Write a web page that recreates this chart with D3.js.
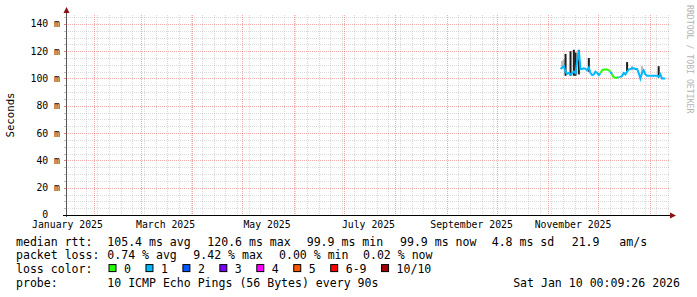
<!DOCTYPE html>
<html>
<head>
<meta charset="utf-8">
<script src="https://cdn.jsdelivr.net/npm/d3@7"></script>
<style>
  body { margin: 0; background: #fff; }
  text { font-family: "DejaVu Sans Mono", monospace; fill: #000; }
</style>
</head>
<body>
<div id="chart"></div>
<script>
// median rtt per day (ms), first sample 2025-11-08
const medianRtt = [
  107, 108, 109, 105, 103.5, 104, 103, 104, 105, 104,
  113, 120.6, 107, 107, 107.5, 107, 106, 108, 104, 102.5,
  103, 105, 104, 102.5, 104, 106, 106.5, 106.5, 106.5, 106,
  105, 103, 101, 100.5, 100.5, 101, 101, 102, 104, 103,
  105, 106.5, 107, 107.5, 107.5, 107, 107, 104, 100, 104,
  106, 103, 102, 102, 102, 102, 102, 102, 102, 101,
  103, 100, 99.9, 99.9
];
// lost pings (of 10) per day, picks the line colour
const lossPings = [
  0, 1, 1, 1, 1, 1, 1, 1, 1, 1,
  1, 1, 1, 1, 1, 1, 1, 1, 1, 1,
  1, 1, 1, 1, 1, 0, 0, 0, 0, 0,
  0, 1, 0, 0, 0, 1, 0, 1, 1, 1,
  1, 1, 1, 1, 1, 1, 1, 1, 1, 1,
  1, 1, 1, 1, 1, 1, 1, 1, 1, 1,
  1, 1, 1, 1
];
// dense smoke (dark) spikes: day index, low and high rtt (ms)
const spikeDay = [3, 6, 8, 9, 11, 17, 40, 59];
const spikeLo = [102, 102, 102, 102, 103, 105, 105, 102];
const spikeHi = [118, 120, 121, 119, 121, 115, 112, 109];
// light smoke
const smokeDay = [1, 2, 43, 49];
const smokeLo = [107, 108, 106, 104];
const smokeHi = [113, 114, 109, 109];

const yTicks = [0, 20, 40, 60, 80, 100, 120, 140];
const lossLabels = ['0', '1', '2', '3', '4', '5', '6-9', '10/10'];
const lossColors = ['#26ff00', '#00b8ff', '#0059ff', '#7e00ff', '#ff00ff', '#ff5500', '#ff0000', '#a10000'];

const rttStats = ['105.4 ms avg', '120.6 ms max', '99.9 ms min', '99.9 ms now', '4.8 ms sd', '21.9', 'am/s'];
const lossStats = ['0.74 % avg', '9.42 % max', '0.00 % min', '0.02 % now'];
const probeText = '10 ICMP Echo Pings (56 Bytes) every 90s';
const stampText = 'Sat Jan 10 00:09:26 2026';

const width = 697;
const height = 297;
const margin = {top: 15, left: 66, right: 28, bottom: 82};
const charW = 6.95;

const firstDay = Date.UTC(2025, 10, 8, 12);
const dayAt = i => new Date(firstDay + i * 864e5);

const svg = d3.select('#chart')
  .append('svg')
  .attr('width', width)
  .attr('height', height);

const xScale = d3.scaleUtc()
  .domain([new Date(Date.UTC(2025, 0, 15, 3)), new Date(Date.UTC(2026, 0, 12, 17))])
  .range([margin.left, width - margin.right]);

const yScale = d3.scaleLinear()
  .domain([0, 146.5])
  .range([height - margin.bottom, margin.top]);

const x0 = margin.left, x1 = width - margin.right;
const yTop = margin.top, yBot = height - margin.bottom;

// minor grid
const grid = svg.append('g').attr('shape-rendering', 'crispEdges');
const months = d3.utcMonth.range(...xScale.domain());
const monthSet = new Set(months.map(d => +d));
const mondays = d3.utcMonday.range(...xScale.domain()).filter(d => !monthSet.has(+d));

const minorY = d3.range(5, 147, 5).filter(v => v % 20 !== 0);

grid.selectAll('.hmin').data(minorY).enter().append('line')
  .attr('x1', x0).attr('x2', x1)
  .attr('y1', d => Math.round(yScale(d)) + 0.5).attr('y2', d => Math.round(yScale(d)) + 0.5)
  .attr('stroke', '#8f8f8f').attr('stroke-opacity', 0.33).attr('stroke-dasharray', '1,1');

grid.selectAll('.vmin').data(mondays).enter().append('line')
  .attr('x1', d => Math.round(xScale(d)) + 0.5).attr('x2', d => Math.round(xScale(d)) + 0.5)
  .attr('y1', yTop).attr('y2', yBot)
  .attr('stroke', '#8f8f8f').attr('stroke-opacity', 0.33).attr('stroke-dasharray', '1,1');

// major grid
grid.selectAll('.hmaj').data(yTicks.filter(v => v > 0)).enter().append('line')
  .attr('x1', x0).attr('x2', x1)
  .attr('y1', d => Math.round(yScale(d)) + 0.5).attr('y2', d => Math.round(yScale(d)) + 0.5)
  .attr('stroke', '#de3030').attr('stroke-opacity', 0.4).attr('stroke-dasharray', '1,1');

grid.selectAll('.vmaj').data(months).enter().append('line')
  .attr('x1', d => Math.round(xScale(d)) + 0.5).attr('x2', d => Math.round(xScale(d)) + 0.5)
  .attr('y1', yTop).attr('y2', yBot + 2)
  .attr('stroke', '#de3030').attr('stroke-opacity', 0.4).attr('stroke-dasharray', '1,1');

// small ticks left of the y axis
grid.selectAll('.ytk').data(d3.range(0, 147, 5)).enter().append('line')
  .attr('x1', x0 - 2).attr('x2', x0)
  .attr('y1', d => Math.round(yScale(d)) + 0.5).attr('y2', d => Math.round(yScale(d)) + 0.5)
  .attr('stroke', d => d % 20 === 0 ? '#de3030' : '#8f8f8f').attr('stroke-opacity', 0.6);

// light smoke
svg.append('g').selectAll('rect').data(smokeDay).enter().append('rect')
  .attr('x', d => xScale(dayAt(d)) - 1)
  .attr('width', 2)
  .attr('y', (d, i) => yScale(smokeHi[i]))
  .attr('height', (d, i) => yScale(smokeLo[i]) - yScale(smokeHi[i]))
  .attr('fill', '#b8b8b8');

// dense smoke spikes
svg.append('g').selectAll('rect').data(spikeDay).enter().append('rect')
  .attr('x', d => xScale(dayAt(d)) - 1)
  .attr('width', 2)
  .attr('y', (d, i) => yScale(spikeHi[i]))
  .attr('height', (d, i) => yScale(spikeLo[i]) - yScale(spikeHi[i]))
  .attr('fill', '#1e1e1e');

// median line coloured by loss
const line = d3.line().x(i => xScale(dayAt(i))).y(i => yScale(medianRtt[i]));
const runs = [];
medianRtt.forEach((v, i) => {
  const c = lossPings[i];
  const last = runs[runs.length - 1];
  if (last && last.loss === c) last.idx.push(i);
  else runs.push({loss: c, idx: i > 0 ? [i - 1, i] : [i]});
});
svg.append('g').selectAll('path').data(runs).enter().append('path')
  .attr('d', r => line(r.idx))
  .attr('fill', 'none')
  .attr('stroke', r => lossColors[r.loss])
  .attr('stroke-width', 2);

// axes
svg.append('line')
  .attr('x1', x0 + 0.5).attr('x2', x0 + 0.5)
  .attr('y1', yBot + 2).attr('y2', yTop - 4)
  .attr('stroke', '#555');
svg.append('line')
  .attr('x1', x0 - 3).attr('x2', x1 + 3)
  .attr('y1', yBot + 0.5).attr('y2', yBot + 0.5)
  .attr('stroke', '#000');
svg.append('path')
  .attr('d', `M${x0 + 0.5},${yTop - 8} L${x0 - 2.5},${yTop - 2} L${x0 + 3.5},${yTop - 2} Z`)
  .attr('fill', '#8b1010');
svg.append('path')
  .attr('d', `M${x1 + 7},${yBot + 0.5} L${x1 + 1},${yBot - 2.5} L${x1 + 1},${yBot + 3.5} Z`)
  .attr('fill', '#8b1010');

// y tick labels
svg.append('g').selectAll('text').data(yTicks).enter().append('text')
  .attr('x', x0 - 6)
  .attr('y', d => yScale(d))
  .attr('dy', '0.35em')
  .attr('text-anchor', 'end')
  .style('font-size', '9.8px')
  .text(d => d === 0 ? '0\u00a0\u00a0' : d + '\u00a0m');

// x month labels (centred in the month)
const labelMonths = d3.utcMonth.every(2).range(new Date(Date.UTC(2025, 0, 1)), xScale.domain()[1])
  .filter(d => +d3.utcDay.offset(d, 15) < +xScale.domain()[1]);
svg.append('g').selectAll('text').data(labelMonths).enter().append('text')
  .attr('x', d => xScale(d3.utcDay.offset(d, 15)))
  .attr('y', yBot + 13)
  .attr('text-anchor', 'middle')
  .style('font-size', '9.8px')
  .text(d => d3.utcFormat('%B %Y')(d));

// axis title
svg.append('text')
  .attr('transform', `translate(14, ${(yTop + yBot) / 2}) rotate(-90)`)
  .attr('text-anchor', 'middle')
  .style('font-size', '10.7px')
  .text('Seconds');

// watermark
svg.append('text')
  .attr('transform', 'translate(685, 5) rotate(90)')
  .attr('dy', '-0.2em')
  .style('font-size', '8.2px')
  .style('fill', '#b4b4b4')
  .text('RRDTOOL / TOBI OETIKER');

// legend
const legendFont = '11.55px';
const rows = [245.5, 259.3, 273.1, 286.9];
const legend = svg.append('g').style('font-size', legendFont);

legend.append('text').attr('x', 16).attr('y', rows[0]).text('median rtt:');
const rttX = [107.3, 207.3, 306.7, 400, 491.7, 571.7, 619.3];
legend.selectAll('.rtt').data(rttStats).enter().append('text')
  .attr('x', (d, i) => rttX[i]).attr('y', rows[0]).text(d => d);

legend.append('text').attr('x', 16).attr('y', rows[1]).text('packet loss:');
const lossX = [107.3, 193.3, 279, 363];
legend.selectAll('.ls').data(lossStats).enter().append('text')
  .attr('x', (d, i) => lossX[i]).attr('y', rows[1]).text(d => d);

legend.append('text').attr('x', 16).attr('y', rows[2]).text('loss color:');
let lx = 108.5;
lossLabels.forEach((lab, i) => {
  legend.append('rect')
    .attr('x', lx + 0.5).attr('y', rows[2] - 8.5)
    .attr('width', 7).attr('height', 7)
    .attr('fill', lossColors[i])
    .attr('stroke', '#000').attr('stroke-width', 1);
  legend.append('text').attr('x', lx + 15.5).attr('y', rows[2]).text(lab);
  lx = lx + 15.5 + lab.length * charW + 14.5;
});

legend.append('text').attr('x', 16).attr('y', rows[3]).text('probe:');
legend.append('text').attr('x', 107.3).attr('y', rows[3]).text(probeText);
legend.append('text').attr('x', 680).attr('y', rows[3]).attr('text-anchor', 'end').text(stampText);
</script>
</body>
</html>
